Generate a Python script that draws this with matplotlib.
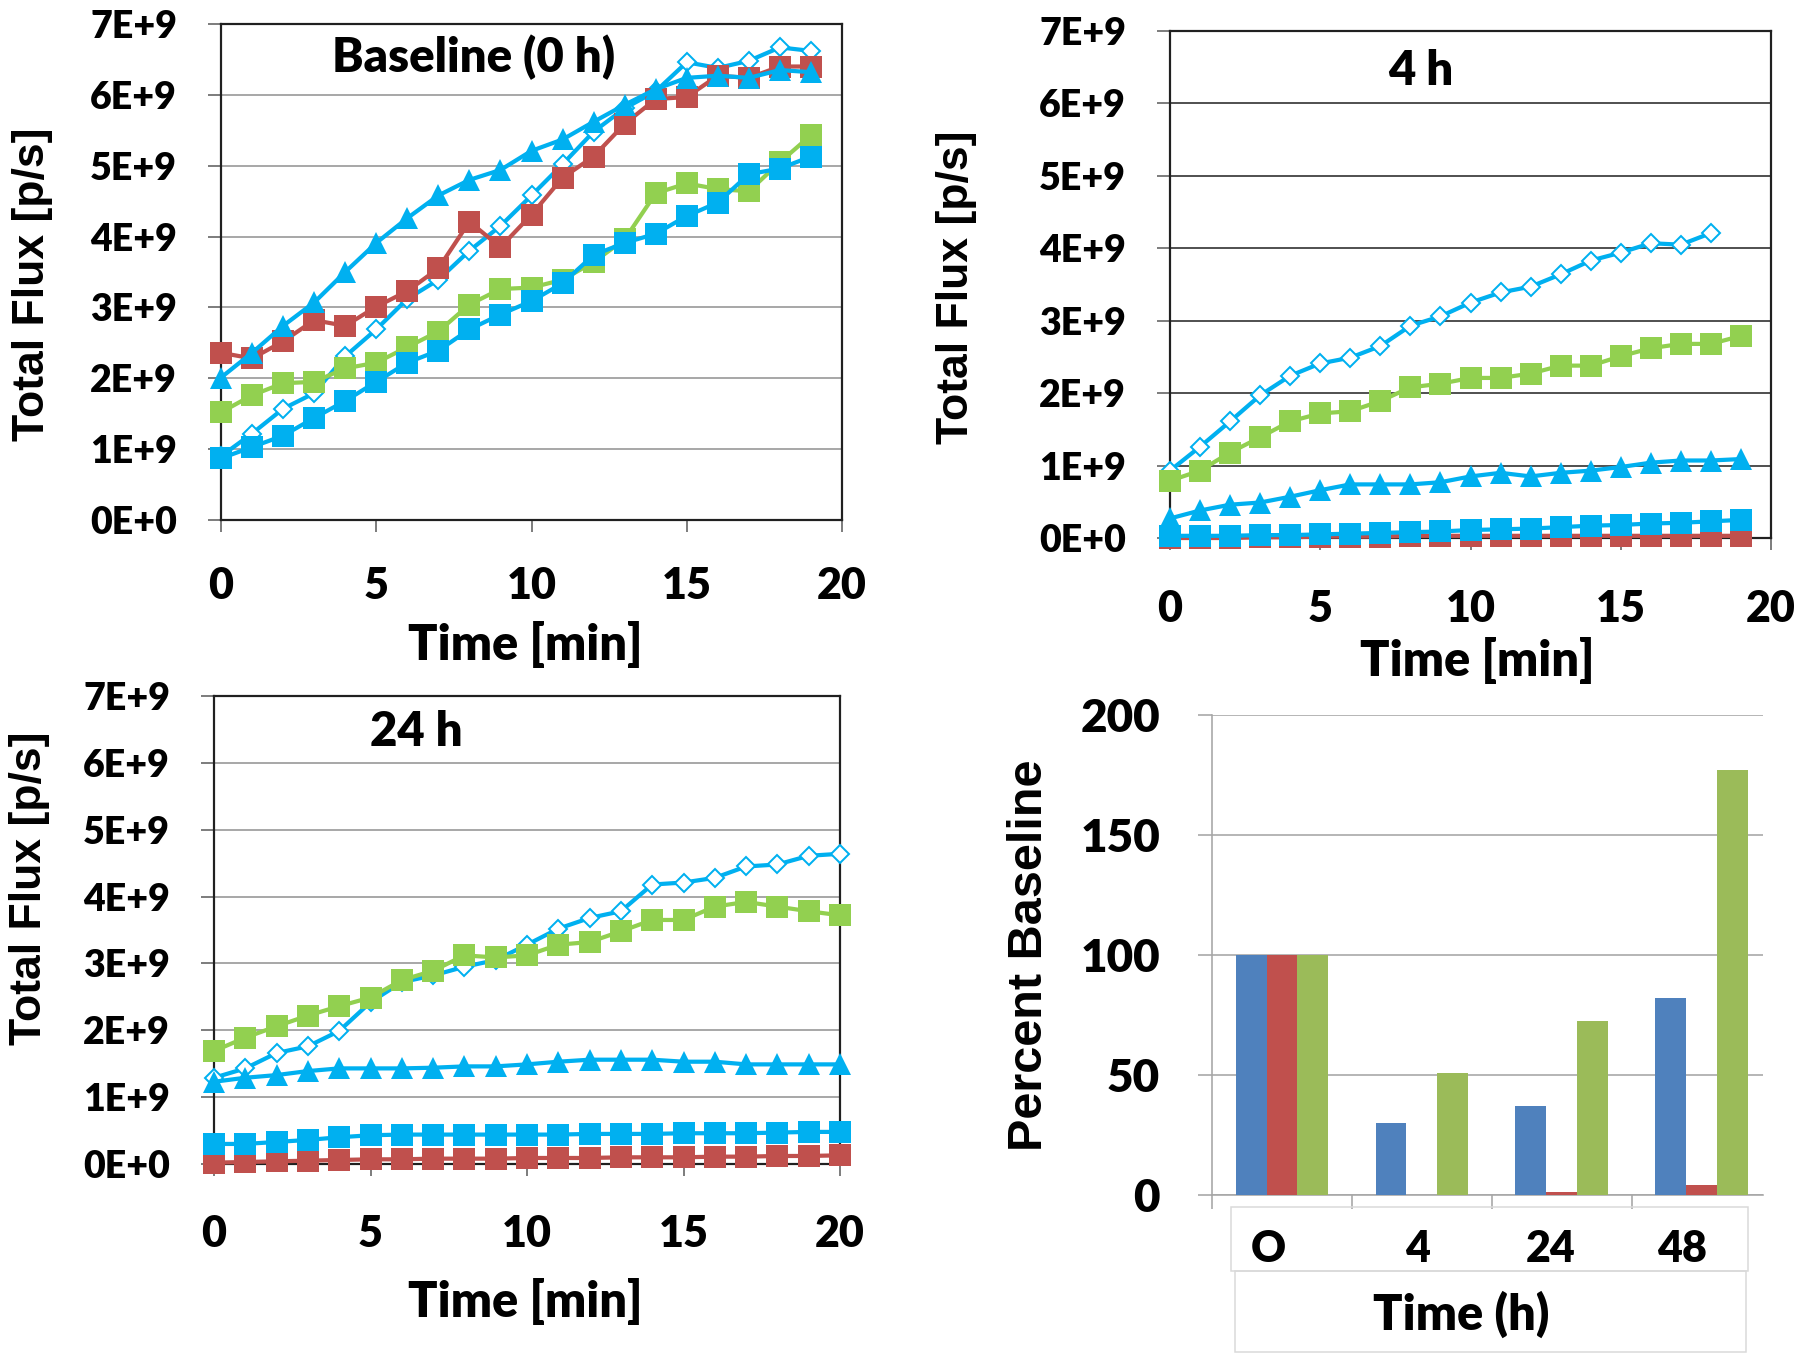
import matplotlib
matplotlib.use('Agg')
import matplotlib.pyplot as plt
from matplotlib.patches import Rectangle
from matplotlib.transforms import ScaledTranslation

# ---------------- data (flux in units of 1E+9 p/s) ----------------
ytick_vals = [0, 1, 2, 3, 4, 5, 6, 7]
ytick_labels = ['0E+0', '1E+9', '2E+9', '3E+9', '4E+9', '5E+9', '6E+9', '7E+9']
xtick_vals = [0, 5, 10, 15, 20]

# Baseline (0 h)
t_base = list(range(20))
base_blue_sq = [0.87, 1.03, 1.19, 1.44, 1.68, 1.95, 2.22, 2.39, 2.69, 2.90,
                3.09, 3.34, 3.74, 3.91, 4.04, 4.29, 4.48, 4.88, 4.96, 5.13]
base_green_sq = [1.52, 1.76, 1.93, 1.95, 2.14, 2.22, 2.44, 2.66, 3.04, 3.26,
                 3.28, 3.39, 3.64, 3.96, 4.61, 4.75, 4.67, 4.64, 5.05, 5.43]
base_red_sq = [2.36, 2.28, 2.52, 2.82, 2.74, 3.01, 3.23, 3.55, 4.21, 3.85,
               4.31, 4.83, 5.13, 5.59, 5.94, 5.97, 6.27, 6.24, 6.40, 6.40]
base_tri = [2.01, 2.36, 2.74, 3.07, 3.50, 3.91, 4.26, 4.58, 4.80, 4.94,
            5.21, 5.37, 5.62, 5.86, 6.08, 6.24, 6.27, 6.24, 6.35, 6.32]
base_dia = [0.90, 1.22, 1.57, 1.79, 2.31, 2.69, 3.12, 3.39, 3.80, 4.15,
            4.58, 5.02, 5.48, 5.81, 6.05, 6.46, 6.38, 6.48, 6.67, 6.62]

# 4 h
t_4h = list(range(20))
t_4h_dia = list(range(19))
h4_dia = [0.93, 1.26, 1.61, 1.97, 2.24, 2.41, 2.49, 2.65, 2.93, 3.06,
          3.25, 3.39, 3.47, 3.64, 3.83, 3.94, 4.07, 4.05, 4.21]
h4_green_sq = [0.79, 0.93, 1.18, 1.39, 1.61, 1.72, 1.75, 1.89, 2.08, 2.13,
               2.21, 2.21, 2.27, 2.38, 2.38, 2.51, 2.62, 2.68, 2.68, 2.79]
h4_tri = [0.27, 0.38, 0.46, 0.49, 0.57, 0.66, 0.74, 0.74, 0.74, 0.77,
          0.85, 0.90, 0.85, 0.90, 0.93, 0.98, 1.04, 1.07, 1.07, 1.09]
h4_blue_sq = [0.03, 0.03, 0.03, 0.04, 0.04, 0.05, 0.06, 0.07, 0.08, 0.09,
              0.11, 0.12, 0.13, 0.15, 0.17, 0.18, 0.20, 0.21, 0.23, 0.25]
h4_red_sq = [0.00, 0.00, 0.00, 0.01, 0.01, 0.02, 0.02, 0.02, 0.03, 0.03,
             0.03, 0.03, 0.03, 0.03, 0.03, 0.03, 0.03, 0.03, 0.03, 0.03]

# 24 h
t_24h = list(range(21))
h24_dia = [1.29, 1.43, 1.66, 1.76, 1.99, 2.42, 2.72, 2.82, 2.95, 3.05,
           3.28, 3.52, 3.68, 3.78, 4.18, 4.21, 4.28, 4.45, 4.48, 4.61, 4.64]
h24_green_sq = [1.69, 1.89, 2.06, 2.22, 2.36, 2.49, 2.75, 2.89, 3.12, 3.09,
                3.12, 3.28, 3.32, 3.48, 3.65, 3.65, 3.85, 3.92, 3.85, 3.78, 3.72]
h24_tri = [1.23, 1.29, 1.33, 1.39, 1.43, 1.43, 1.43, 1.44, 1.46, 1.46,
           1.49, 1.53, 1.56, 1.56, 1.56, 1.53, 1.53, 1.49, 1.49, 1.49, 1.49]
h24_blue_sq = [0.30, 0.30, 0.33, 0.36, 0.40, 0.43, 0.44, 0.44, 0.44, 0.44,
               0.44, 0.44, 0.45, 0.45, 0.45, 0.46, 0.46, 0.46, 0.47, 0.48, 0.48]
h24_red_sq = [0.02, 0.03, 0.04, 0.05, 0.06, 0.07, 0.07, 0.08, 0.08, 0.08,
              0.09, 0.09, 0.09, 0.10, 0.10, 0.10, 0.11, 0.11, 0.12, 0.12, 0.13]

# Percent baseline bar chart
bar_categories = ['O', '4', '24', '48']
bar_series1 = [100, 30, 37, 82]     # blue
bar_series2 = [100, 0, 1.4, 4.3]    # red
bar_series3 = [100, 51, 72.5, 177]  # green
bar_yticks = [0, 50, 100, 150, 200]

# ---------------- styling ----------------
CYAN = '#00B0F0'
RED = '#C0504D'
GREEN = '#92D050'
BAR_COLORS = ['#4F81BD', '#C0504D', '#9BBB59']
TICKFONT = 'Lato'
TW = 'heavy'
LABELFONT = 'Liberation Sans'
PX = 72.0 / 100.0  # points per pixel

W, H = 1800, 1355
fig = plt.figure(figsize=(18, 13.55), dpi=100)


def rect(l, t, r, b):
    return [l / W, 1 - b / H, (r - l) / W, (b - t) / H]


def line_panel(pos, title, title_xy, series, grid_color, xl_xy, yl_xy, xpad):
    ax = fig.add_axes(rect(*pos))
    ax.set_xlim(0, 20)
    ax.set_ylim(0, 7)
    ax.set_yticks(ytick_vals)
    ax.set_yticklabels(ytick_labels)
    ax.set_xticks(xtick_vals)
    ax.yaxis.grid(True, color=grid_color, linewidth=1.8 * PX)
    ax.set_axisbelow(True)
    for sp in ax.spines.values():
        sp.set_color('#202020')
        sp.set_linewidth(2.2 * PX)
    ax.tick_params(axis='y', direction='out', length=13 * PX, width=1.6 * PX,
                   color='#606060', pad=31 * PX)
    ax.tick_params(axis='x', direction='out', length=12 * PX, width=1.6 * PX,
                   color='#606060', pad=xpad * PX)
    for lab in ax.get_yticklabels():
        lab.set_fontfamily(TICKFONT)
        lab.set_fontweight(TW)
        lab.set_fontsize(27)
    for lab in ax.get_xticklabels():
        lab.set_fontfamily(TICKFONT)
        lab.set_fontweight(TW)
        lab.set_fontsize(31)
        lab.set_va('center')
    for (x, y, kind, col) in series:
        if kind == 'sq':
            ax.plot(x, y, color=col, lw=4.2 * PX, marker='s', ms=22 * PX,
                    mec=col, mew=0, clip_on=False, zorder=3)
        elif kind == 'tri':
            ax.plot(x, y, color=col, lw=4.2 * PX, marker='^', ms=23 * PX,
                    mec=col, mew=0, clip_on=False, zorder=3)
        else:
            ax.plot(x, y, color=col, lw=4.2 * PX, marker='D', ms=12.5 * PX,
                    mfc='white', mec=col, mew=2.0 * PX, clip_on=False, zorder=3)
    ax.text(title_xy[0], title_xy[1], title, transform=ax.transAxes,
            ha='center', va='center', fontsize=34, fontweight=TW,
            fontfamily=TICKFONT)
    ax.set_xlabel('Time [min]', fontsize=35, fontweight=TW, fontfamily=TICKFONT)
    ax.xaxis.label.set_va('center')
    ax.xaxis.set_label_coords(*xl_xy)
    ax.set_ylabel('Total Flux [p/s]', fontsize=32, fontweight='bold',
                  fontfamily=LABELFONT)
    ax.yaxis.label.set_va('center')
    ax.yaxis.label.set_ha('center')
    ax.yaxis.set_label_coords(*yl_xy)
    return ax


# Panel 1: Baseline
line_panel((221, 24, 842, 520), 'Baseline (0 h)', (0.406, 0.933),
           [(t_base, base_dia, 'dia', CYAN),
            (t_base, base_red_sq, 'sq', RED),
            (t_base, base_green_sq, 'sq', GREEN),
            (t_base, base_blue_sq, 'sq', CYAN),
            (t_base, base_tri, 'tri', CYAN)],
           '#A0A0A0', (0.49, -0.252), (-0.304, 0.476), 54)

# Panel 2: 4 h
line_panel((1170, 31, 1771, 538), '4 h', (0.418, 0.921),
           [(t_4h_dia, h4_dia, 'dia', CYAN),
            (t_4h, h4_red_sq, 'sq', RED),
            (t_4h, h4_green_sq, 'sq', GREEN),
            (t_4h, h4_blue_sq, 'sq', CYAN),
            (t_4h, h4_tri, 'tri', CYAN)],
           '#404040', (0.511, -0.241), (-0.356, 0.495), 59)

# Panel 3: 24 h
line_panel((214, 696, 840, 1164), '24 h', (0.323, 0.923),
           [(t_24h, h24_dia, 'dia', CYAN),
            (t_24h, h24_red_sq, 'sq', RED),
            (t_24h, h24_green_sq, 'sq', GREEN),
            (t_24h, h24_blue_sq, 'sq', CYAN),
            (t_24h, h24_tri, 'tri', CYAN)],
           '#A0A0A0', (0.497, -0.293), (-0.294, 0.59), 58)

# Panel 4: bar chart
axb = fig.add_axes(rect(1212, 715, 1763, 1195))
n = len(bar_categories)
idx = list(range(n))
bw = 0.22
for k, (vals, col) in enumerate(zip([bar_series1, bar_series2, bar_series3], BAR_COLORS)):
    axb.bar([i + (k - 1) * bw for i in idx], vals, width=bw, color=col,
            edgecolor='none', zorder=3)
axb.set_xlim(-0.5, 3.44)
axb.set_ylim(0, 200)
axb.set_yticks(bar_yticks)
axb.yaxis.grid(True, color='#A6A6A6', linewidth=1.6 * PX)
axb.set_axisbelow(True)
for s in ['top', 'right']:
    axb.spines[s].set_visible(False)
axb.spines['left'].set_color('#A6A6A6')
axb.spines['left'].set_linewidth(1.6 * PX)
axb.spines['bottom'].set_color('#A6A6A6')
axb.spines['bottom'].set_linewidth(1.6 * PX)
axb.set_xticks(idx)
axb.set_xticklabels(bar_categories)
axb.set_xticks([-0.5, 0.5, 1.5, 2.5], minor=True)
axb.tick_params(axis='x', which='major', length=0, pad=54 * PX)
axb.tick_params(axis='x', which='minor', length=14 * PX, width=1.6 * PX,
                color='#A6A6A6', direction='out')
axb.tick_params(axis='y', length=14 * PX, width=1.6 * PX, color='#A6A6A6',
                direction='out', pad=38 * PX)
for lab in axb.get_yticklabels():
    lab.set_fontfamily(TICKFONT)
    lab.set_fontweight(TW)
    lab.set_fontsize(33)
label_shift_px = [-14, -4, -11, -19]
for lab, dx in zip(axb.get_xticklabels(), label_shift_px):
    lab.set_fontfamily(TICKFONT)
    lab.set_fontweight(TW)
    lab.set_fontsize(31)
    lab.set_va('center')
    lab.set_transform(lab.get_transform() + ScaledTranslation(dx / 100.0, 0, fig.dpi_scale_trans))
axb.set_xlabel('Time (h)', fontsize=35, fontweight=TW, fontfamily=TICKFONT)
axb.xaxis.label.set_va('center')
axb.xaxis.set_label_coords((1461 - 1212) / 551, (1195 - 1314) / 480)
axb.set_ylabel('Percent Baseline', fontsize=35, fontweight='bold',
               fontfamily=LABELFONT)
axb.yaxis.label.set_va('center')
axb.yaxis.label.set_ha('center')
axb.yaxis.set_label_coords((1030 - 1212) / 551, 0.5)

# boxes around the category labels / axis title of the bar chart
for (l, t, r, b) in [(1231, 1207, 1748, 1271), (1235, 1271, 1746, 1352)]:
    fig.patches.append(Rectangle((l / W, 1 - b / H), (r - l) / W, (b - t) / H,
                                 transform=fig.transFigure, fill=False,
                                 edgecolor='#D9D9D9', linewidth=1.5 * PX,
                                 zorder=0))

fig.savefig('out.png', dpi=100, facecolor='white')
